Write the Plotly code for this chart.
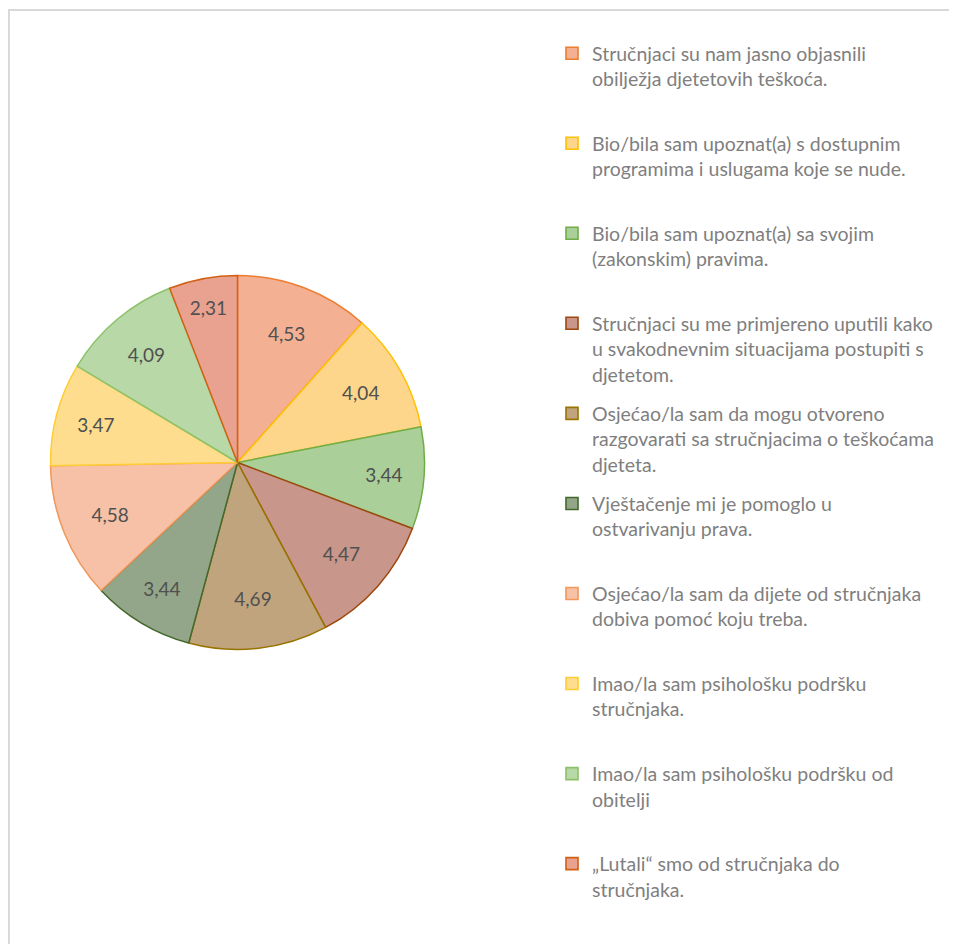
import plotly.graph_objects as go

labels = [
    "Stručnjaci su nam jasno objasnili<br>obilježja djetetovih teškoća.",
    "Bio/bila sam upoznat(a) s dostupnim<br>programima i uslugama koje se nude.",
    "Bio/bila sam upoznat(a) sa svojim<br>(zakonskim) pravima.",
    "Stručnjaci su me primjereno uputili kako<br>u svakodnevnim situacijama postupiti s<br>djetetom.",
    "Osjećao/la sam da mogu otvoreno<br>razgovarati sa stručnjacima o teškoćama<br>djeteta.",
    "Vještačenje mi je pomoglo u<br>ostvarivanju prava.",
    "Osjećao/la sam da dijete od stručnjaka<br>dobiva pomoć koju treba.",
    "Imao/la sam psihološku podršku<br>stručnjaka.",
    "Imao/la sam psihološku podršku od<br>obitelji",
    "„Lutali“ smo od stručnjaka do<br>stručnjaka.",
]
values = [4.53, 4.04, 3.44, 4.47, 4.69, 3.44, 4.58, 3.47, 4.09, 2.31]

fill_colors = ["#F4B093", "#FDD68C", "#ABCF98", "#C8968A", "#C0A47E",
               "#93A689", "#F6C1A6", "#FEDD8F", "#B8D8A7", "#E9A290"]
line_colors = ["#ED7D31", "#FFC000", "#70AD47", "#9E480E", "#997300",
               "#43682B", "#F1975A", "#FFCD33", "#8CC168", "#D26012"]


def pad(lbl, n=3):
    k = lbl.count("<br>") + 1
    return lbl + "<br>\u00a0" * (n - k)


W, H = 949, 936
cx, cy, r = 229.5, 454.5, 187
LEG_FONT = 19.5

fig = go.Figure()
fig.add_trace(go.Pie(
    labels=labels,
    values=values,
    sort=False,
    direction="clockwise",
    rotation=0,
    showlegend=False,
    marker=dict(colors=fill_colors, line=dict(color=line_colors, width=1.5)),
    texttemplate="%{value:.2f}",
    textposition="inside",
    insidetextorientation="horizontal",
    textfont=dict(family="Lato", size=19, color="#505050"),
    domain=dict(x=[(cx - r) / W, (cx + r) / W], y=[1 - (cy + r) / H, 1 - (cy - r) / H]),
    hoverinfo="label+value",
))

# legend entries, one per slice, in the slice colours
for i, (lbl, fc, lc) in enumerate(zip(labels, fill_colors, line_colors)):
    fig.add_trace(go.Scatter(
        x=[None], y=[None], mode="markers",
        name=pad(lbl) if i < len(labels) - 1 else lbl,
        legendgroup=f"g{i}",
        marker=dict(symbol="square", size=12, color=fc, line=dict(color=lc, width=1.6)),
        hoverinfo="skip",
    ))

fig.update_layout(
    width=W, height=H,
    margin=dict(l=0, r=0, t=0, b=0),
    paper_bgcolor="white",
    plot_bgcolor="white",
    separators=",.",
    font=dict(family="Lato"),
    xaxis=dict(visible=False),
    yaxis=dict(visible=False),
    showlegend=True,
    legend=dict(
        x=544 / W, xanchor="left",
        y=1 - 26 / H, yanchor="top",
        valign="top",
        font=dict(family="Lato", size=LEG_FONT, color="#7F7F7F"),
        bgcolor="rgba(0,0,0,0)",
        traceorder="grouped",
        tracegroupgap=11,
    ),
    shapes=[dict(type="rect", xref="paper", yref="paper",
                 x0=1 / W, x1=1.05, y0=-0.05, y1=1 - 2 / H,
                 line=dict(color="#D9D9D9", width=2), layer="below")],
)

fig.write_html("out.html")
